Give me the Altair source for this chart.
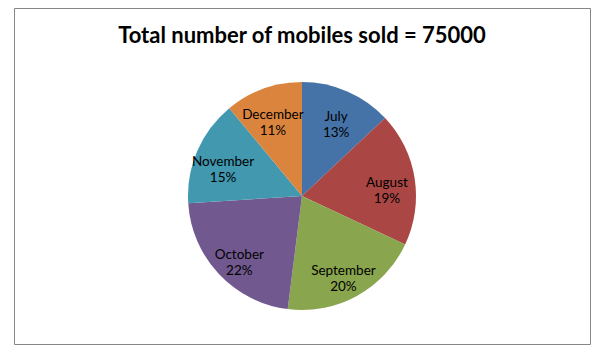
import altair as alt
import pandas as pd

months = ["July", "August", "September", "October", "November", "December"]
percent = [13, 19, 20, 22, 15, 11]
colors = ["#4572A7", "#AA4643", "#89A54E", "#71588F", "#4198AF", "#DB843D"]
title_text = "Total number of mobiles sold = 75000"

df = pd.DataFrame({"month": months, "pct": percent, "idx": list(range(len(months)))})

base = alt.Chart(df).encode(
    theta=alt.Theta("pct:Q", stack=True),
    order=alt.Order("idx:Q"),
)

pie = base.mark_arc(outerRadius=114).encode(
    color=alt.Color("month:N", scale=alt.Scale(domain=months, range=colors), legend=None),
    x=alt.value(288),
    y=alt.value(188),
)

labels = base.transform_calculate(
    label="datum.month + '\\n' + datum.pct + '%'"
).mark_text(
    radius=86, font="Lato", fontSize=13.5, lineHeight=16, color="#000000",
    lineBreak="\n", align="center", baseline="middle",
).encode(
    text="label:N",
    x=alt.value(288),
    y=alt.value(188),
)

chart = alt.layer(pie, labels).properties(
    width=576,
    height=336,
    padding={"left": 14, "top": 8, "right": 19, "bottom": 13},
    autosize="none",
    background="white",
    title=alt.TitleParams(
        title_text, font="Lato", fontSize=22, fontWeight="bold", color="#000000",
        anchor="middle", orient="top", offset=-20, baseline="alphabetic", dy=37,
    ),
).configure_view(stroke="#868686", strokeWidth=1)

chart.save("out.html", embed_options={"renderer": "svg", "actions": False})
